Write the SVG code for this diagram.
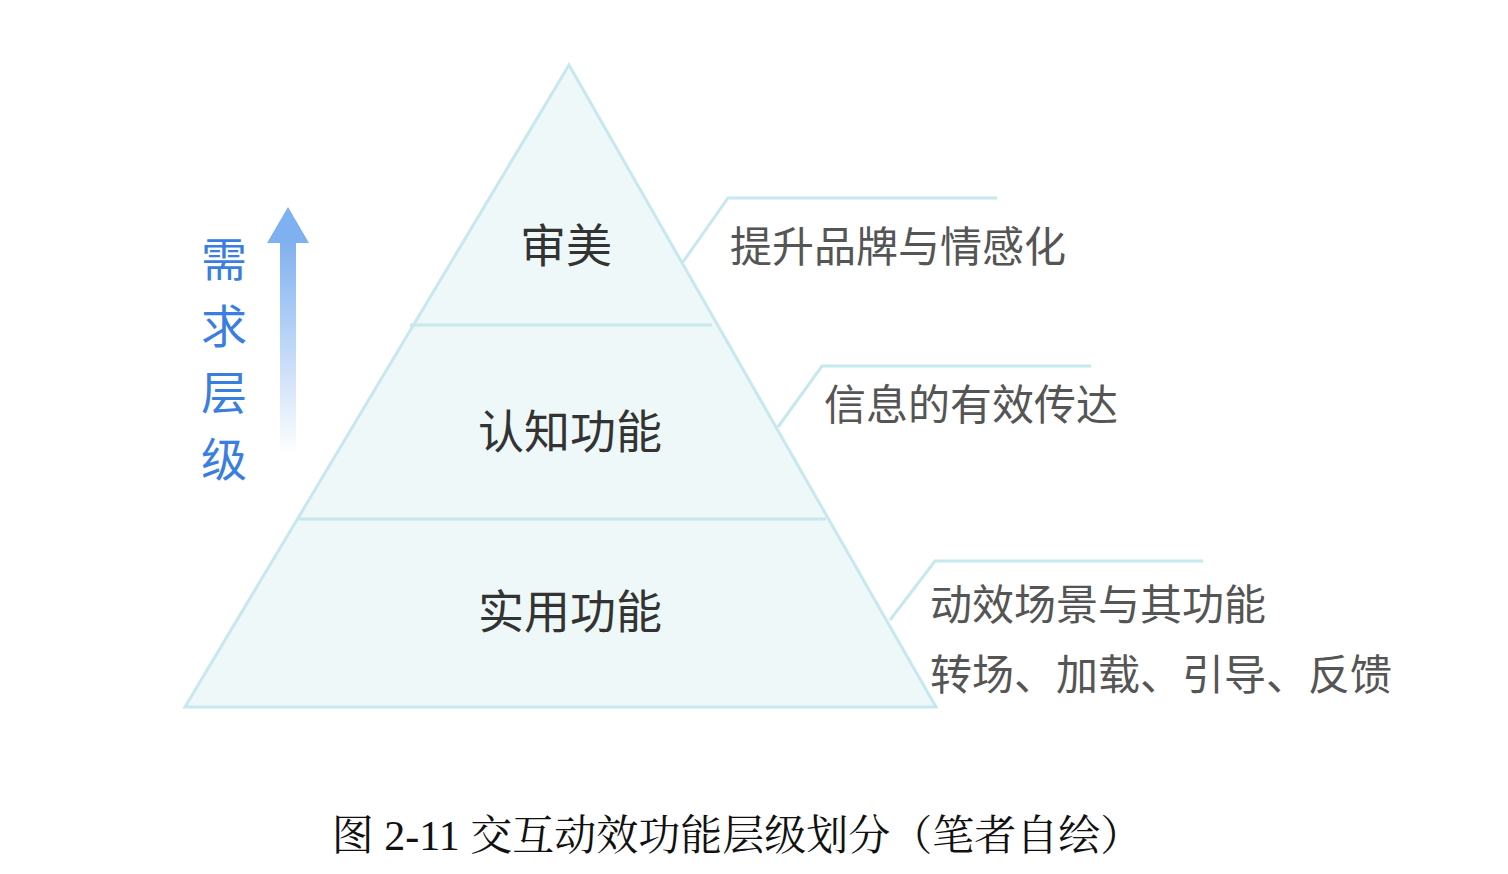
<svg xmlns="http://www.w3.org/2000/svg" width="1508" height="874" viewBox="0 0 1508 874">
<style>
.lbl{font-family:"Noto Sans CJK SC",sans-serif;font-size:46px;fill:#333;text-anchor:middle}
.note{font-family:"Noto Sans CJK SC",sans-serif;font-size:42px;fill:#555}
.ldr{fill:none;stroke:#c6e8ee;stroke-width:3}
.side{font-family:"Noto Sans CJK SC",sans-serif;font-size:46px;fill:#3a7ee0;text-anchor:middle}
</style>
<defs>
<linearGradient id="ag" x1="0" y1="0" x2="0" y2="1">
<stop offset="0" stop-color="#7fb0f0"/><stop offset="1" stop-color="#7fb0f0" stop-opacity="0"/>
</linearGradient>
</defs>
<rect width="1508" height="874" fill="#fff"/>
<g id="pyramid">
<polygon points="569,65 185,707 936,707" fill="#eef8f8" stroke="#c6e8ee" stroke-width="3"/>
<line x1="410" y1="325" x2="712" y2="325" stroke="#c6e8ee" stroke-width="3"/>
<line x1="297" y1="519" x2="826" y2="519" stroke="#c6e8ee" stroke-width="3"/>
</g>
<g id="n1"><text class="lbl" x="566" y="262">审美</text></g>
<g id="n2"><text class="lbl" x="570" y="448">认知功能</text></g>
<g id="n3"><text class="lbl" x="570" y="628">实用功能</text></g>
<g id="connectors">
<polyline class="ldr" points="683,262 728,198 997,198"/>
<polyline class="ldr" points="778,427 822,366 1091,366"/>
<polyline class="ldr" points="890,620 935,561 1203,561"/>
</g>
<g id="t1"><text class="note" x="730" y="262">提升品牌与情感化</text></g>
<g id="t2"><text class="note" x="824" y="420">信息的有效传达</text></g>
<g id="t3"><text class="note" x="930" y="620">动效场景与其功能</text><text class="note" x="930" y="690">转场、加载、引导、反馈</text></g>
<g id="arrow">
<rect x="280" y="240" width="16" height="215" fill="url(#ag)"/>
<polygon points="267,243 288,207 309,243" fill="#7fb0f0"/>
</g>
<g id="side">
<text class="side" x="224" y="276">需</text>
<text class="side" x="224" y="343">求</text>
<text class="side" x="224" y="409">层</text>
<text class="side" x="224" y="476">级</text>
</g>
<text x="737" y="850" font-family="Liberation Serif,'Noto Serif CJK SC','Noto Sans CJK SC',serif" font-size="42" text-anchor="middle" fill="#111">图 2-11 交互动效功能层级划分（笔者自绘）</text>
</svg>
